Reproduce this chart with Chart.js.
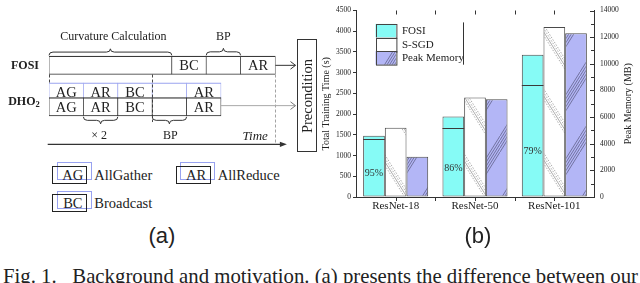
<!DOCTYPE html>
<html>
<head>
<meta charset="utf-8">
<script src="https://cdn.jsdelivr.net/npm/chart.js@4.4.1/dist/chart.umd.min.js"></script>
<style>
  html, body { margin:0; padding:0; background:#fff; }
  #page { position:relative; width:640px; height:283px; overflow:hidden; background:#fff; color:#222;
          font-family:"Liberation Serif","Times New Roman",serif; }
  canvas { position:absolute; }
  #diag { left:0; top:0; }
  #bars { left:300px; top:0; }
  .abs { position:absolute; white-space:nowrap; }
  #pre { left:297px; top:39px; width:20px; height:113px; border:1px solid #333; box-sizing:border-box; }
  #pre span { position:absolute; left:50%; top:50%; transform:translate(-50%,-50%) rotate(-90deg);
              font-size:14.5px; line-height:15px; white-space:nowrap; }
  .kb { position:absolute; width:35px; height:18px; box-sizing:border-box; }
  .kb.black { border:1.2px solid #222; }
  .kb.blue { border:1.2px solid #98a2f0; }
  .kt { position:absolute; font-size:14.5px; line-height:18px; text-align:center; width:40px; }
  .kl { position:absolute; font-size:14.5px; line-height:18px; white-space:nowrap; }
  .sub { font-family:"Liberation Sans", Arial, sans-serif; font-size:22px; line-height:22px; width:60px; text-align:center; }
  #cap { left:3px; top:266px; font-size:21px; line-height:21px; transform-origin:0 0; }
</style>
</head>
<body>
<div id="page">
  <canvas id="diag" width="300" height="160"></canvas>
  <canvas id="bars" width="340" height="225"></canvas>
  <div id="pre" class="abs"><span>Precondition</span></div>
  <div id="keys"></div>
  <div class="abs sub" style="left:132px;top:225px">(a)</div>
  <div class="abs sub" style="left:448px;top:225px">(b)</div>
  <div id="cap" class="abs">Fig. 1.&nbsp;&nbsp; Background and motivation. (a) presents the difference between our</div>
</div>
<script>
// ---------------- data for (b) ----------------
const categories = ['ResNet-18', 'ResNet-50', 'ResNet-101'];
const seriesNames = ['FOSI', 'S-SGD', 'Peak Memory'];
const fosiTime = [1480, 1940, 3430];
const fosiSharedTime = [1400, 1670, 2710];
const fosiShareLabels = ['95%', '86%', '79%'];
const ssgdTime = [1670, 2400, 4100];
const peakMemory = [3030, 7340, 12300];
const timeTicks = [0, 500, 1000, 1500, 2000, 2500, 3000, 3500, 4000, 4500];
const memoryTicks = [0, 2000, 4000, 6000, 8000, 10000, 12000, 14000];
const leftTitle = 'Total Training Time (s)';
const rightTitle = 'Peak Memory (MB)';

// ---------------- data for (a) ----------------
const fosiStepLabels = ['', 'BC', '', 'AR'];
const fosiStepStart = [0, 3.57, 4.57, 5.57];
const fosiStepEnd = [3.57, 4.57, 5.57, 6.58];
const dhoStepLabels = ['AG', 'AR', 'BC', '', 'AR'];
const dhoStepStart = [0, 1, 2, 3, 4];
const dhoStepEnd = [1, 2, 3, 4, 5];
const keyCodes = ['AG', 'AR', 'BC'];
const keyNames = ['AllGather', 'AllReduce', 'Broadcast'];

const SERIF = '"Liberation Serif", "Times New Roman", serif';
Chart.defaults.font.family = SERIF;

// caption fitted to the page width
(function () {
  const cap = document.getElementById('cap');
  const w = cap.getBoundingClientRect().width;
  if (w > 0) cap.style.transform = 'scaleX(' + (635 / w) + ')';
})();

// ---------------- (a) timeline diagram ----------------
const lane = { fosi: 0, dhoComm: 1.82, dho: 2.82 };
const HALF = 9.2;
function segs(starts, ends, y) { return starts.map((s, i) => ({ x: [s, ends[i]], y })); }

function brace(ctx, x1, x2, y, dir, h) {
  const m = (x1 + x2) / 2, q = h / 2, r = Math.min(4, (x2 - x1) / 4);
  ctx.beginPath();
  ctx.moveTo(x1, y);
  ctx.quadraticCurveTo(x1, y + dir * q, x1 + r, y + dir * q);
  ctx.lineTo(m - r, y + dir * q);
  ctx.quadraticCurveTo(m, y + dir * q, m, y + dir * h);
  ctx.quadraticCurveTo(m, y + dir * q, m + r, y + dir * q);
  ctx.lineTo(x2 - r, y + dir * q);
  ctx.quadraticCurveTo(x2, y + dir * q, x2, y);
  ctx.stroke();
}

const diagDecor = {
  id: 'diagDecor',
  afterDatasetsDraw(chart) {
    const ctx = chart.ctx;
    ctx.save();
    ctx.fillStyle = '#222';
    ctx.font = '14.5px ' + SERIF;
    ctx.textAlign = 'center';
    ctx.textBaseline = 'middle';
    chart.data.datasets.forEach((ds, di) => {
      const meta = chart.getDatasetMeta(di);
      meta.data.forEach((el, i) => {
        const t = ds.stepLabels[i];
        if (t) ctx.fillText(t, (el.x + el.base) / 2, el.y + 1);
      });
    });
    ctx.restore();
  },
  afterDraw(chart) {
    const { ctx, scales: { x, y } } = chart;
    const X = v => x.getPixelForValue(v);
    const fy = y.getPixelForValue(lane.fosi);
    const cy = y.getPixelForValue(lane.dhoComm);
    const dy = y.getPixelForValue(lane.dho);
    const fosiEndX = X(fosiStepEnd[fosiStepEnd.length - 1]);
    const axisY = dy + HALF + 28.3;
    ctx.save();
    ctx.fillStyle = '#222';
    ctx.font = 'bold 12px ' + SERIF;
    ctx.textAlign = 'right';
    ctx.textBaseline = 'middle';
    ctx.fillText('FOSI', 39, fy + 0.5);
    ctx.fillText('DHO', 35.5, (cy + dy) / 2 + 2.5);
    ctx.font = 'bold 8.5px ' + SERIF;
    ctx.textAlign = 'left';
    ctx.fillText('2', 35.5, (cy + dy) / 2 + 5.5);

    ctx.lineWidth = 0.9;
    ctx.setLineDash([3, 2]);
    ctx.strokeStyle = '#333';
    ctx.beginPath();
    ctx.moveTo(Math.round(X(0)) + 0.5, fy + HALF); ctx.lineTo(Math.round(X(0)) + 0.5, cy - HALF);
    ctx.moveTo(Math.round(X(3)) + 0.5, fy + HALF); ctx.lineTo(Math.round(X(3)) + 0.5, dy + HALF + 6);
    ctx.stroke();
    ctx.strokeStyle = '#999';
    ctx.beginPath();
    ctx.moveTo(Math.round(fosiEndX) + 0.5, fy + HALF); ctx.lineTo(Math.round(fosiEndX) + 0.5, axisY);
    ctx.stroke();
    ctx.setLineDash([]);

    ctx.strokeStyle = '#333';
    ctx.lineWidth = 1;
    brace(ctx, X(fosiStepStart[0]), X(fosiStepEnd[0]), fy - HALF - 0.8, -1, 6.5);
    brace(ctx, X(fosiStepStart[2]), X(fosiStepEnd[2]), fy - HALF - 0.8, -1, 7);
    brace(ctx, X(dhoStepStart[1]), X(dhoStepEnd[1]), dy + HALF + 0.8, 1, 7);
    brace(ctx, X(dhoStepStart[3]), X(dhoStepEnd[3]), dy + HALF + 0.8, 1, 7);

    ctx.fillStyle = '#222';
    ctx.font = '12px ' + SERIF;
    ctx.textAlign = 'center';
    ctx.textBaseline = 'middle';
    ctx.fillText('Curvature Calculation', (X(fosiStepStart[0]) + X(fosiStepEnd[0])) / 2 + 3, fy - HALF - 19);
    ctx.fillText('BP', (X(fosiStepStart[2]) + X(fosiStepEnd[2])) / 2, fy - HALF - 19);
    ctx.fillText('\u00d7 2', (X(dhoStepStart[1]) + X(dhoStepEnd[1])) / 2 - 1.5, dy + HALF + 20);
    ctx.fillText('BP', (X(dhoStepStart[3]) + X(dhoStepEnd[3])) / 2 + 1, dy + HALF + 20);

    ctx.strokeStyle = '#333';
    ctx.lineWidth = 1.2;
    ctx.beginPath();
    ctx.moveTo(X(0) - 1.3, axisY); ctx.lineTo(X(6.9) - 5, axisY);
    ctx.stroke();
    ctx.fillStyle = '#333';
    ctx.beginPath();
    ctx.moveTo(X(6.9) + 0.5, axisY); ctx.lineTo(X(6.9) - 6.5, axisY - 2.6); ctx.lineTo(X(6.9) - 6.5, axisY + 2.6);
    ctx.closePath(); ctx.fill();
    ctx.fillStyle = '#222';
    ctx.font = 'italic 13px ' + SERIF;
    ctx.textAlign = 'right';
    ctx.fillText('Time', fosiEndX - 7.5, axisY - 8);

    const tip = 295.5;
    ctx.lineWidth = 1;
    ctx.strokeStyle = '#333';
    ctx.beginPath();
    ctx.moveTo(fosiEndX, fy); ctx.lineTo(tip, fy);
    ctx.moveTo(tip - 5, fy - 3.8); ctx.lineTo(tip, fy); ctx.lineTo(tip - 5, fy + 3.8);
    ctx.stroke();
    const ay = dy - 1.2;
    ctx.strokeStyle = '#a8a8a8';
    ctx.beginPath();
    ctx.moveTo(X(dhoStepEnd[dhoStepEnd.length - 1]), ay); ctx.lineTo(tip, ay);
    ctx.stroke();
    ctx.strokeStyle = '#777';
    ctx.beginPath();
    ctx.moveTo(tip - 5, ay - 3.8); ctx.lineTo(tip, ay); ctx.lineTo(tip - 5, ay + 3.8);
    ctx.stroke();
    ctx.restore();
  }
};

new Chart(document.getElementById('diag'), {
  type: 'bar',
  data: {
    datasets: [
      { label: 'FOSI', data: segs(fosiStepStart, fosiStepEnd, lane.fosi), stepLabels: fosiStepLabels,
        borderColor: '#3a3a3a', backgroundColor: '#ffffff' },
      { label: 'DHO2', data: segs(dhoStepStart, dhoStepEnd, lane.dho), stepLabels: dhoStepLabels,
        borderColor: '#2a2a2a', backgroundColor: '#ffffff' },
      { label: 'DHO2 comm', data: segs(dhoStepStart, dhoStepEnd, lane.dhoComm), stepLabels: dhoStepLabels,
        borderColor: '#9aa3ef', backgroundColor: '#ffffff' }
    ]
  },
  options: {
    indexAxis: 'y', responsive: false, animation: false, events: [],
    layout: { padding: { left: 49, right: 10.2, top: 6.45, bottom: 6.35 } },
    scales: {
      x: { type: 'linear', min: 0, max: 7, display: false },
      y: { type: 'linear', min: -3, max: 5, reverse: true, display: false }
    },
    datasets: { bar: { grouped: false, barThickness: 18.4, borderWidth: { top: 1.2, bottom: 1.2, left: 0.7, right: 0.7 }, borderSkipped: false } },
    plugins: { legend: { display: false }, tooltip: { enabled: false } }
  },
  plugins: [diagDecor]
});

const keyPos = [[52.3, 165.7], [175.7, 165.7], [52.3, 194.3]];
const keysDiv = document.getElementById('keys');
keyCodes.forEach((code, i) => {
  const [kx, ky] = keyPos[i];
  keysDiv.insertAdjacentHTML('beforeend',
    `<div class="kb blue" style="left:${kx + 4.4}px;top:${ky - 3.4}px"></div>` +
    `<div class="kb black" style="left:${kx}px;top:${ky}px"></div>` +
    `<div class="kt" style="left:${kx + 0.5}px;top:${ky}px">${code}</div>` +
    `<div class="kl" style="left:${kx + 42}px;top:${ky}px">${keyNames[i]}</div>`);
});

// ---------------- (b) bar chart ----------------
const barsCanvas = document.getElementById('bars');
const bctx = barsCanvas.getContext('2d');
function stripePattern(bg, W, H, slope, offsets, dashes, color, lw, shiftY) {
  const c = document.createElement('canvas');
  c.width = W; c.height = H;
  const g = c.getContext('2d');
  g.fillStyle = bg; g.fillRect(0, 0, W, H);
  g.strokeStyle = color; g.lineWidth = lw;
  offsets.forEach((o, j) => {
    g.setLineDash(dashes[j] || []);
    for (let k = -3; k <= 3; k++) {
      g.beginPath();
      g.moveTo(0, o + k * H); g.lineTo(W, o + k * H + slope * W);
      g.stroke();
    }
  });
  const p = bctx.createPattern(c, 'repeat');
  if (p.setTransform && typeof DOMMatrix !== 'undefined') p.setTransform(new DOMMatrix().translate(0, shiftY));
  return p;
}
const CYAN = '#86fbf6';
const LAV = '#b3b6f6';
const ssgdFill = stripePattern('#ffffff', 40, 64, 1.6, [0, 3.5, 7, 10.5],
  [[1.5, 1.5], [1.5, 1.5], [], [1.5, 1.5]], '#8a8a8a', 0.7, 19);
const peakFill = stripePattern(LAV, 40, 64, -1.6, [0, 4, 8, 12, 16], [], '#56567a', 0.7, 8);

const barDecor = {
  id: 'barDecor',
  afterDatasetsDraw(chart) {
    const { ctx, scales: { y } } = chart;
    const meta = chart.getDatasetMeta(0);
    ctx.save();
    ctx.strokeStyle = '#3a3a3a';
    ctx.lineWidth = 1;
    ctx.fillStyle = '#333';
    ctx.font = '10px ' + SERIF;
    ctx.textAlign = 'center';
    ctx.textBaseline = 'middle';
    meta.data.forEach((el, i) => {
      const yy = Math.round(y.getPixelForValue(fosiSharedTime[i])) + 0.5;
      ctx.beginPath();
      ctx.moveTo(el.x - el.width / 2, yy); ctx.lineTo(el.x + el.width / 2, yy);
      ctx.stroke();
      ctx.fillText(fosiShareLabels[i], el.x, y.getPixelForValue(fosiSharedTime[i] * 0.41));
    });
    ctx.restore();
  },
  afterDraw(chart) {
    const { ctx, chartArea: ca, scales: { x, y2 } } = chart;
    ctx.save();
    ctx.strokeStyle = '#333';
    ctx.lineWidth = 1;
    const xs = [];
    categories.forEach((c, i) => {
      xs.push(x.getPixelForValue(i));
      if (i < categories.length - 1) xs.push((x.getPixelForValue(i) + x.getPixelForValue(i + 1)) / 2);
    });
    ctx.beginPath();
    xs.forEach(px => {
      const p = Math.round(px) + 0.5;
      ctx.moveTo(p, ca.bottom); ctx.lineTo(p, ca.bottom + 4);
      ctx.moveTo(p, ca.top); ctx.lineTo(p, ca.top + 4);
    });
    memoryTicks.forEach((v, i) => {
      const p = Math.round(y2.getPixelForValue(v)) + 0.5;
      ctx.moveTo(ca.right - 4, p); ctx.lineTo(ca.right, p);
      if (i < memoryTicks.length - 1) {
        const m = Math.round(y2.getPixelForValue((v + memoryTicks[i + 1]) / 2)) + 0.5;
        ctx.moveTo(ca.right - 3, m); ctx.lineTo(ca.right, m);
      }
    });
    ctx.stroke();

    ctx.fillStyle = '#222';
    ctx.font = '10px ' + SERIF;
    ctx.textAlign = 'center';
    ctx.textBaseline = 'middle';
    ctx.translate(ca.right + 34, (ca.top + ca.bottom) / 2);
    ctx.rotate(-Math.PI / 2);
    ctx.fillText(rightTitle, 0, 0);
    ctx.setTransform(1, 0, 0, 1, 0, 0);

    const fills = [CYAN, '#ffffff', peakFill];
    const lx = ca.left + 19.5, ly = ca.top + 13.4, sw = 20.4, sh = 13.6;
    ctx.font = '11px ' + SERIF;
    ctx.textAlign = 'left';
    seriesNames.forEach((name, i) => {
      const top = ly + i * sh;
      ctx.fillStyle = fills[i];
      ctx.fillRect(lx, top, sw, sh);
      ctx.strokeStyle = '#444';
      ctx.strokeRect(Math.round(lx) + 0.5, Math.round(top) + 0.5, sw, sh);
      ctx.fillStyle = '#222';
      ctx.fillText(name, lx + sw + 6, top + sh / 2 + 0.5);
    });
    ctx.strokeStyle = '#333';
    ctx.beginPath();
    ctx.moveTo(163.5, ly - 1.5); ctx.lineTo(163.5, ly + 3 * sh);
    ctx.stroke();
    ctx.restore();
  }
};

const plainNumber = v => String(v);

new Chart(barsCanvas, {
  type: 'bar',
  data: {
    labels: categories,
    datasets: [
      { label: seriesNames[0], data: fosiTime, yAxisID: 'y', backgroundColor: CYAN },
      { label: seriesNames[1], data: ssgdTime, yAxisID: 'y', backgroundColor: ssgdFill },
      { label: seriesNames[2], data: peakMemory, yAxisID: 'y2', backgroundColor: peakFill }
    ]
  },
  options: {
    responsive: false, animation: false, events: [],
    layout: { padding: { left: 0, right: 0, top: 3, bottom: 0 } },
    datasets: { bar: { categoryPercentage: 0.82, barPercentage: 1, borderColor: '#4a4a4a', borderWidth: 1, borderSkipped: false } },
    plugins: { legend: { display: false }, tooltip: { enabled: false } },
    scales: {
      x: {
        grid: { display: false, drawTicks: false },
        border: { display: true, color: '#333', width: 1 },
        ticks: { font: { family: SERIF, size: 11 }, color: '#222', padding: 3, maxRotation: 0 },
        afterFit(s) { s.height = 28; }
      },
      y: {
        position: 'left', min: 0, max: 4500,
        afterBuildTicks(s) { s.ticks = timeTicks.map(v => ({ value: v })); },
        ticks: { font: { family: SERIF, size: 7.5 }, color: '#222', padding: 2, callback: plainNumber },
        grid: { drawOnChartArea: false, drawTicks: true, tickLength: 3, color: '#333' },
        border: { display: true, color: '#333', width: 1 },
        title: { display: true, text: leftTitle, font: { family: SERIF, size: 10 }, color: '#222', padding: { top: 20.7, bottom: 0 } },
        afterFit(s) { s.width = 56; }
      },
      y2: {
        position: 'right', min: 0, max: 14000,
        afterBuildTicks(s) { s.ticks = memoryTicks.map(v => ({ value: v })); },
        ticks: { font: { family: SERIF, size: 7.5 }, color: '#222', padding: 6, callback: plainNumber },
        grid: { drawOnChartArea: false, drawTicks: false },
        border: { display: true, color: '#333', width: 1 },
        afterFit(s) { s.width = 46; }
      }
    }
  },
  plugins: [barDecor]
});
</script>
</body>
</html>
